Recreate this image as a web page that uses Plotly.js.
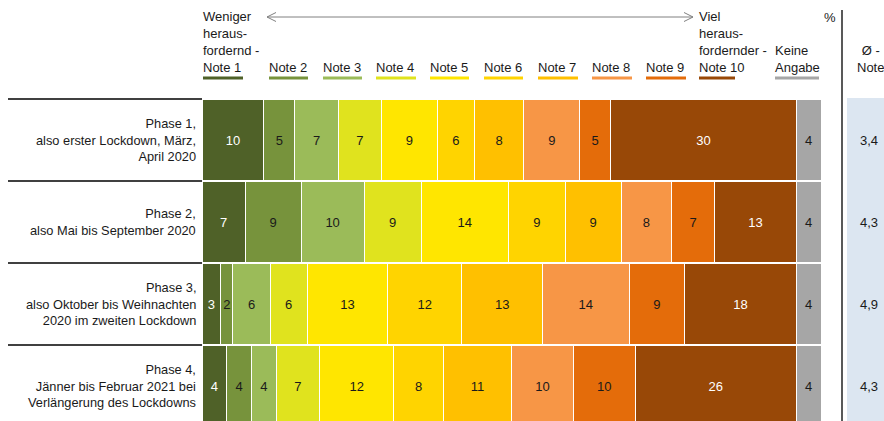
<!DOCTYPE html>
<html>
<head>
<meta charset="utf-8">
<script src="https://cdn.plot.ly/plotly-3.0.1.min.js"></script>
<style>html,body{margin:0;padding:0;background:#fff;}#chart{width:884px;height:421px;}</style>
</head>
<body>
<div id="chart"></div>
<script>
// ---- data ----
const phases = [
  'Phase 1,<br>also erster Lockdown, März,<br>April 2020',
  'Phase 2,<br>also Mai bis September 2020',
  'Phase 3,<br>also Oktober bis Weihnachten<br>2020 im zweiten Lockdown',
  'Phase 4,<br>Jänner bis Februar 2021 bei<br>Verlängerung des Lockdowns'
];
const noteNames = ['Note 1','Note 2','Note 3','Note 4','Note 5','Note 6','Note 7','Note 8','Note 9','Note 10','Keine Angabe'];
const phase1 = [10, 5, 7, 7, 9, 6, 8, 9, 5, 30, 4];
const phase2 = [7, 9, 10.2, 9.2, 14.1, 9.2, 9, 8.2, 6.9, 13.2, 4];
const phase3 = [3, 2, 6, 6, 13, 12, 13, 14, 9, 18, 4];
const phase4 = [4, 4, 4, 7, 12, 8, 11, 10, 10, 26, 4];
const avgNote = [3.4, 4.3, 4.9, 4.3];
const headerLabels = ['Weniger<br>heraus-<br>fordernd -<br>Note 1','Note 2','Note 3','Note 4','Note 5','Note 6','Note 7','Note 8','Note 9','Viel<br>heraus-<br>fordernder -<br>Note 10','Keine<br>Angabe'];

// ---- styles ----
const colors = ['#4f6128','#77933c','#9bbb59','#e0e31e','#ffe600','#ffd400','#ffc000','#f79646','#e46c0a','#984807','#a6a6a6'];
const textColors = ['#ffffff','#1a1a1a','#1a1a1a','#1a1a1a','#1a1a1a','#1a1a1a','#1a1a1a','#1a1a1a','#1a1a1a','#ffffff','#1a1a1a'];
const headerX = [203, 269, 323, 376, 430, 484, 538, 592, 646, 699, 775];
const headerX1 = [243, 308, 362, 416, 469, 523, 578, 632, 686, 735, 819];

const FIG_W = 884, FIG_H = 421, L = 202, T = 99, B = 0, R = 0;
const PW = FIG_W - L - R, PH = FIG_H - T - B;
const px = X => (X - L) / PW;
const py = Y => (FIG_H - B - Y) / PH;
const BAR_W = 619; // pixels for 100 %
const ROW = 82;
const FONT = '"Liberation Sans", Arial, sans-serif';

const rows = [phase1, phase2, phase3, phase4];
const traces = noteNames.map((name, i) => {
  const xs = rows.map(r => r[i]);
  return {
    type: 'bar', orientation: 'h', name: name,
    y: phases, x: xs,
    text: xs.map(v => String(Math.round(v))),
    textposition: 'inside', insidetextanchor: 'middle', textangle: 0,
    constraintext: 'none',
    textfont: {family: FONT, size: 13, color: textColors[i]},
    marker: {color: colors[i], line: {color: '#ffffff', width: 1}},
    hoverinfo: 'skip'
  };
});

const shapes = [];
const annotations = [];

// left row separator lines
for (let k = 0; k < 4; k++) {
  const Y = T + k * ROW;
  shapes.push({type: 'line', xref: 'paper', yref: 'paper', x0: px(8), x1: px(202), y0: py(Y), y1: py(Y), line: {color: '#000', width: 1.5}});
}
// average column background
shapes.push({type: 'rect', xref: 'paper', yref: 'paper', x0: px(847), x1: px(890), y0: py(421), y1: py(98), fillcolor: '#dce6f1', line: {width: 0}, layer: 'below'});
// vertical separator
shapes.push({type: 'line', xref: 'paper', yref: 'paper', x0: px(842), x1: px(842), y0: py(10), y1: py(421), line: {color: '#222', width: 1.5}});
// header arrow
shapes.push({type: 'line', xref: 'paper', yref: 'paper', x0: px(267), x1: px(693), y0: py(17), y1: py(17), line: {color: '#808080', width: 1}});
shapes.push({type: 'path', xref: 'paper', yref: 'paper', path: `M ${px(276)} ${py(12.5)} L ${px(267)} ${py(17)} L ${px(276)} ${py(21.5)}`, line: {color: '#808080', width: 1}});
shapes.push({type: 'path', xref: 'paper', yref: 'paper', path: `M ${px(684)} ${py(12.5)} L ${px(693)} ${py(17)} L ${px(684)} ${py(21.5)}`, line: {color: '#808080', width: 1}});

// header legend labels and underlines
headerLabels.forEach((lab, i) => {
  annotations.push({xref: 'paper', yref: 'paper', x: px(headerX[i] - 2), y: py(77), xanchor: 'left', yanchor: 'bottom', align: 'left', text: lab, showarrow: false, font: {family: FONT, size: 13, color: '#1a1a1a'}});
  shapes.push({type: 'line', xref: 'paper', yref: 'paper', x0: px(headerX[i]), x1: px(headerX1[i]), y0: py(78), y1: py(78), line: {color: colors[i], width: 3}});
});
annotations.push({xref: 'paper', yref: 'paper', x: px(830), y: py(17), xanchor: 'center', yanchor: 'middle', text: '%', showarrow: false, font: {family: FONT, size: 13, color: '#1a1a1a'}});
annotations.push({xref: 'paper', yref: 'paper', x: px(870), y: py(77), xanchor: 'center', yanchor: 'bottom', align: 'center', text: 'Ø -<br>Note', showarrow: false, font: {family: FONT, size: 13, color: '#1a1a1a'}});

// row labels and averages
phases.forEach((p, k) => {
  annotations.push({xref: 'paper', yref: 'y', x: px(198), y: p, xanchor: 'right', yanchor: 'middle', align: 'right', text: p, showarrow: false, font: {family: FONT, size: 12.8, color: '#1a1a1a'}});
  annotations.push({xref: 'paper', yref: 'y', x: px(869), y: p, xanchor: 'center', yanchor: 'middle', text: avgNote[k].toFixed(1).replace('.', ','), showarrow: false, font: {family: FONT, size: 13, color: '#1a1a1a'}});
});

const layout = {
  width: FIG_W, height: FIG_H,
  margin: {l: L, r: R, t: T, b: B, pad: 0},
  paper_bgcolor: '#ffffff', plot_bgcolor: 'rgba(0,0,0,0)',
  barmode: 'stack', bargap: 0.015,
  showlegend: false,
  xaxis: {range: [0, 100 * PW / BAR_W], showgrid: false, zeroline: false, showticklabels: false, showline: false, fixedrange: true},
  yaxis: {type: 'category', categoryorder: 'array', categoryarray: phases, range: [-0.5 + PH / ROW, -0.5], showgrid: false, zeroline: false, showticklabels: false, showline: false, fixedrange: true},
  shapes: shapes,
  annotations: annotations,
  font: {family: FONT}
};

Plotly.newPlot('chart', traces, layout, {displayModeBar: false, staticPlot: true});
</script>
</body>
</html>
